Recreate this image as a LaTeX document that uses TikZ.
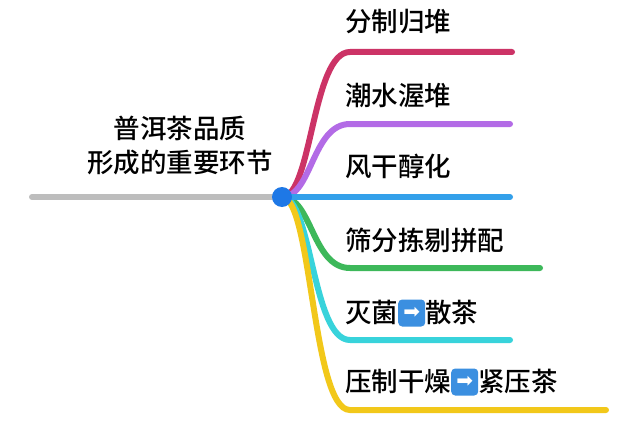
\documentclass[tikz,border=0pt]{standalone}
\usepackage{fontspec}
\newfontfamily\cjk{Noto Sans CJK SC Medium}
\newfontfamily\dv{DejaVu Sans}
\definecolor{cred}{HTML}{CC3366}
\definecolor{cpur}{HTML}{B36BE6}
\definecolor{cblu}{HTML}{33A0EA}
\definecolor{cgrn}{HTML}{3DB85A}
\definecolor{ccya}{HTML}{38D3DB}
\definecolor{cyel}{HTML}{F2C81A}
\definecolor{cgry}{HTML}{BDBDBD}
\definecolor{cdot}{HTML}{1E78E6}
\definecolor{cemo}{HTML}{3B8FE0}
\tikzset{br/.style={line width=6pt,line cap=round},
 lbl/.style={anchor=west,font=\cjk\fontsize{26.5}{30}\selectfont,inner sep=0pt},
 emo/.style={fill=cemo,rounded corners=4pt,text=white,font=\dv\fontsize{20}{20}\selectfont,minimum size=27pt,inner sep=0pt}}
\begin{document}
\begin{tikzpicture}[x=1pt,y=-1pt]
\useasboundingbox[fill=white] (0,0) rectangle (640,436);
\coordinate (c) at (282,197);
\draw[br,cgry] (32,197) -- (c);
\foreach \y/\xe/\col in {52/512/cred,124/510/cpur,268/540/cgrn,340/510/ccya,410/606/cyel}{
 \draw[br,\col] (c) .. controls (312,197) and (312,\y) .. (350,\y) -- (\xe,\y);
}
\draw[br,cblu] (c) -- (510,197);
\node[circle,fill=cdot,minimum size=20pt,inner sep=0pt] (dot) at (c) {};
\node[align=center,font=\cjk\fontsize{26.5}{34}\selectfont] (root) at (180,146) {普洱茶品质\\形成的重要环节};
\node[lbl] (t1) at (345,22) {分制归堆};
\node[lbl] (t2) at (345,95) {潮水渥堆};
\node[lbl] (t3) at (345,166) {风干醇化};
\node[lbl] (t4) at (345,240) {筛分拣剔拼配};
\node[lbl] (t5) at (345,313) {灭菌\tikz[baseline=-9pt]\node[emo]{➡};散茶};
\node[lbl] (t6) at (345,382) {压制干燥\tikz[baseline=-9pt]\node[emo]{➡};紧压茶};
\end{tikzpicture}
\end{document}
